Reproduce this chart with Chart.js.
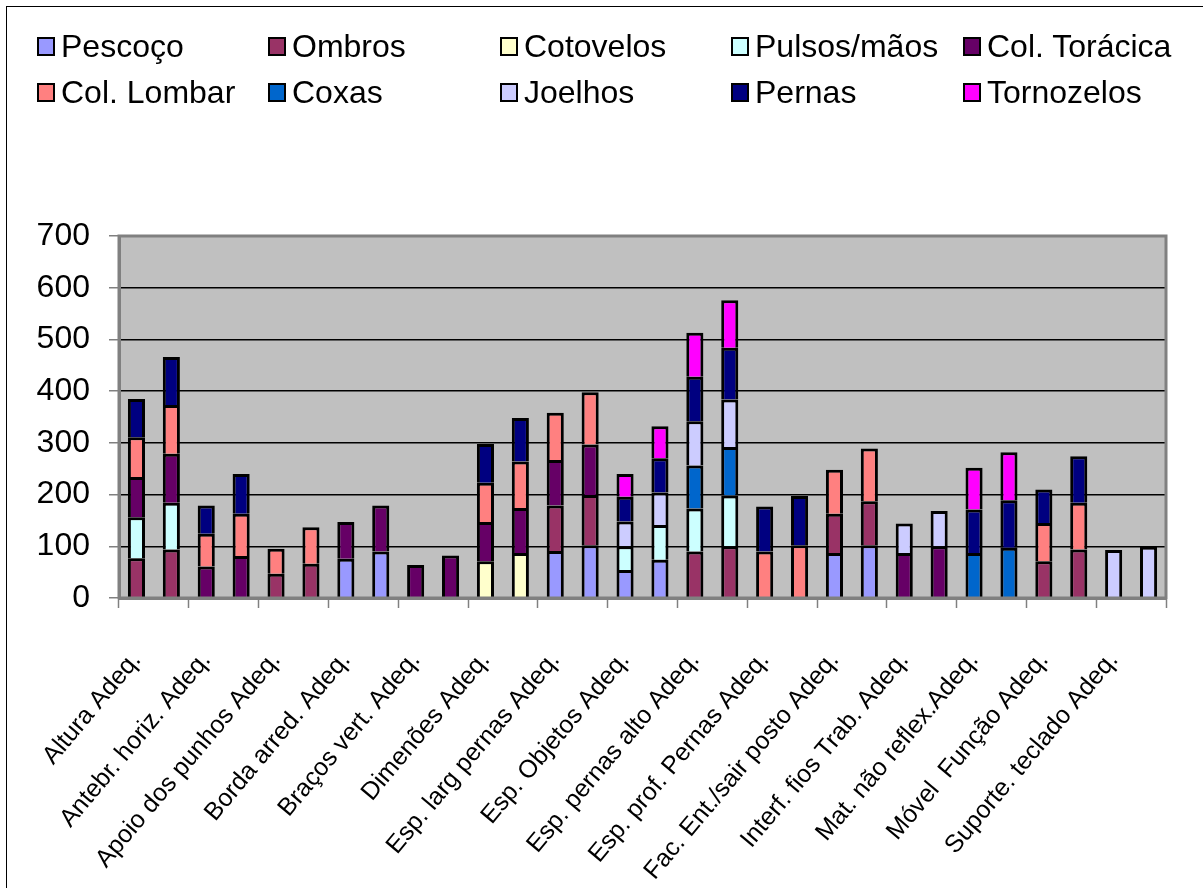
<!DOCTYPE html>
<html>
<head>
<meta charset="utf-8">
<script src="https://cdn.jsdelivr.net/npm/chart.js@4/dist/chart.umd.min.js"></script>
<style>
  html, body { margin: 0; padding: 0; background: #fff; overflow: hidden; }
  #wrap { position: relative; width: 1203px; height: 888px; }
  #frame { position: absolute; left: 6px; top: 6px; width: 1300px; height: 1000px;
           border-left: 1px solid #000; border-top: 1px solid #000; box-sizing: border-box; }
  canvas { position: absolute; left: 0; top: 0; }
  .leg { position: absolute; height: 20px; display: flex; align-items: center;
         font-family: 'Liberation Sans', Arial, sans-serif; font-size: 32px; color: #000;
         white-space: pre; }
  .leg .box { width: 14px; height: 15px; border: 2.5px solid #000; margin-right: 6px; flex: none; }
</style>
</head>
<body>
<div id="wrap">
  <div id="frame"></div>
  <canvas id="c" width="1203" height="888"></canvas>
  <div id="legend"></div>
</div>
<script>
// Category names shown under every second bar
const LABELS = [
  'Altura Adeq.', 'Antebr. horiz. Adeq.', 'Apoio dos punhos Adeq.', 'Borda arred. Adeq.',
  'Braços vert. Adeq.', 'Dimenões Adeq.', 'Esp. larg pernas Adeq.', 'Esp. Objetos Adeq.',
  'Esp. pernas alto Adeq.', 'Esp. prof. Pernas Adeq.', 'Fac. Ent./sair posto Adeq.',
  'Interf. fios Trab. Adeq.', 'Mat. não reflex.Adeq.', 'Móvel  Função Adeq.', 'Suporte. teclado Adeq.'
];

const SERIES = ['Pescoço', 'Ombros', 'Cotovelos', 'Pulsos/mãos', 'Col. Torácica',
                'Col. Lombar', 'Coxas', 'Joelhos', 'Pernas', 'Tornozelos'];
const COLORS = ['#9999FF', '#993366', '#FFFFCC', '#CCFFFF', '#660066',
                '#FF8080', '#0066CC', '#CCCCFF', '#000080', '#FF00FF'];

const Y_TICKS = [0, 100, 200, 300, 400, 500, 600, 700];

// 30 bars (two per named category), one value per bar for each body region
const _ = null;
const pescoco    = [_, _, _, _, _, _, 76, 90, _, _, _, _, 91, 102, 54, 74, _, _, _, _, 87, 102, _, _, _, _, _, _, _, _];
const ombros     = [77, 94, _, _, 47, 66, _, _, _, _, _, _, 88, 97, _, _, 90, 100, _, _, 76, 85, _, _, _, _, 71, 94, _, _];
const cotovelos  = [_, _, _, _, _, _, _, _, _, _, 71, 87, _, _, _, _, _, _, _, _, _, _, _, _, _, _, _, _, _, _];
const pulsos     = [79, 90, _, _, _, _, _, _, _, _, _, _, _, _, 46, 67, 83, 98, _, _, _, _, _, _, _, _, _, _, _, _];
const toracica   = [78, 95, 61, 81, _, _, 71, 89, 64, 82, 76, 87, 88, 98, _, _, _, _, _, _, _, _, 87, 100, _, _, _, _, _, _];
const lombar     = [77, 94, 63, 82, 48, 71, _, _, _, _, 76, 90, 91, 101, _, _, _, _, 90, 102, 85, 102, _, _, _, _, 74, 90, _, _];
const coxas      = [_, _, _, _, _, _, _, _, _, _, _, _, _, _, _, _, 83, 94, _, _, _, _, _, _, 87, 97, _, _, _, _];
const joelhos    = [_, _, _, _, _, _, _, _, _, _, _, _, _, _, 48, 63, 86, 92, _, _, _, _, 57, 68, _, _, _, _, 93, 99];
const pernas     = [74, 93, 55, 77, _, _, _, _, _, _, 75, 84, _, _, 48, 66, 86, 100, 87, 95, _, _, _, _, 84, 92, 65, 90, _, _];
const tornozelos = [_, _, _, _, _, _, _, _, _, _, _, _, _, _, 44, 62, 85, 92, _, _, _, _, _, _, 81, 93, _, _, _, _];

const VALUES = [pescoco, ombros, cotovelos, pulsos, toracica, lombar, coxas, joelhos, pernas, tornozelos];

// Each named category covers a pair of bars; only the first of the pair carries the name
const categories = [];
LABELS.forEach(l => { categories.push(l); categories.push(''); });

const FONT = "'Liberation Sans', Arial, sans-serif";

// HTML legend: two rows of five entries in fixed columns
const legend = document.getElementById('legend');
const colX = [37, 268, 500, 731, 963];
const rowY = [36, 82];
SERIES.forEach((name, i) => {
  const d = document.createElement('div');
  d.className = 'leg';
  d.style.left = colX[i % 5] + 'px';
  d.style.top = rowY[Math.floor(i / 5)] + 'px';
  const b = document.createElement('span');
  b.className = 'box';
  b.style.background = COLORS[i];
  d.appendChild(b);
  d.appendChild(document.createTextNode(name));
  legend.appendChild(d);
});

// Grey plot background and grey frame around the plot area
const plotFrame = {
  id: 'plotFrame',
  beforeDraw(chart) {
    const a = chart.chartArea, ctx = chart.ctx;
    ctx.save();
    ctx.fillStyle = '#C0C0C0';
    ctx.fillRect(a.left, a.top, a.right - a.left, a.bottom - a.top);
    ctx.restore();
  },
  afterDatasetsDraw(chart) {
    const a = chart.chartArea, ctx = chart.ctx;
    ctx.save();
    ctx.strokeStyle = '#808080';
    ctx.lineWidth = 3;
    ctx.strokeRect(a.left, a.top, a.right - a.left, a.bottom - a.top);
    ctx.restore();
  }
};

new Chart(document.getElementById('c'), {
  type: 'bar',
  data: {
    labels: categories,
    datasets: SERIES.map((name, i) => ({
      label: name,
      data: VALUES[i],
      backgroundColor: COLORS[i],
      borderColor: '#000',
      borderWidth: 3,
      borderSkipped: 'start',
      categoryPercentage: 1,
      barPercentage: 0.49
    }))
  },
  options: {
    responsive: false,
    animation: false,
    devicePixelRatio: 1,
    layout: { padding: { top: 236, right: 37, left: 0, bottom: 0 } },
    plugins: { legend: { display: false }, tooltip: { enabled: false } },
    scales: {
      x: {
        stacked: true,
        afterFit(scale) {
          scale.height = 290;
          scale.paddingLeft = 0;
          scale.paddingRight = 0;
        },
        border: { display: true, color: '#808080', width: 3 },
        grid: {
          offset: true,
          drawOnChartArea: false,
          drawTicks: true,
          tickLength: 10,
          tickWidth: 1.5,
          tickColor: ctx => (ctx.index === undefined || ctx.index % 2 === 0) ? '#808080' : 'rgba(0,0,0,0)'
        },
        ticks: {
          autoSkip: false,
          maxRotation: 50,
          minRotation: 50,
          padding: 38,
          color: '#000',
          font: { family: FONT, size: 25 }
        }
      },
      y: {
        stacked: true,
        min: 0,
        max: 700,
        afterFit(scale) { scale.width = 119; },
        afterBuildTicks(scale) { scale.ticks = Y_TICKS.map(v => ({ value: v })); },
        border: { display: true, color: '#808080', width: 3 },
        grid: {
          color: '#000',
          lineWidth: 1.5,
          tickLength: 10,
          tickColor: '#808080',
          tickWidth: 1.5
        },
        ticks: {
          padding: 19,
          color: '#000',
          font: { family: FONT, size: 32 }
        }
      }
    }
  },
  plugins: [plotFrame]
});
</script>
</body>
</html>
